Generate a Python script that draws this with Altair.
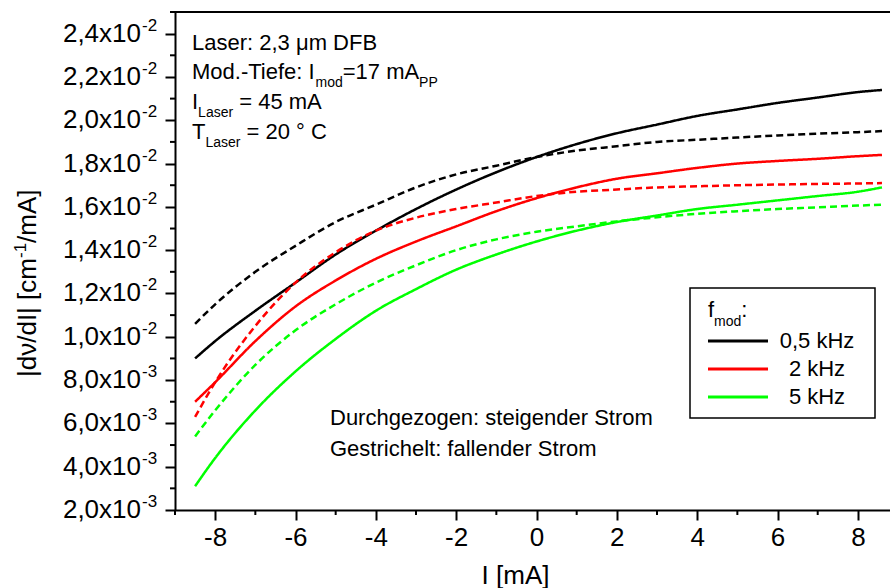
import altair as alt
import pandas as pd

# ---------------- data ----------------
freq_labels = ["0,5 kHz", "2 kHz", "5 kHz"]
freq_colors = ["#000000", "#ff0000", "#00ff00"]
dir_labels = ["steigend", "fallend"]
dir_dash = [[1, 0], [7, 4]]

x_pts = [-8.5, -8, -7, -6, -5, -4, -3, -2, -1, 0, 1, 2, 3, 4, 5, 6, 7, 8, 8.6]
# 0,5 kHz
y_05_up = [0.0090, 0.0098, 0.0112, 0.0125, 0.0138, 0.0149, 0.0159, 0.0168, 0.0176, 0.0183,
           0.0189, 0.0194, 0.0198, 0.0202, 0.0205, 0.0208, 0.02105, 0.0213, 0.0214]
y_05_dn = [0.0106, 0.0115, 0.0130, 0.0142, 0.0153, 0.0161, 0.0169, 0.0175, 0.0179, 0.0183,
           0.0186, 0.0188, 0.0190, 0.0191, 0.0192, 0.0193, 0.01938, 0.01945, 0.0195]
# 2 kHz
y_2_up = [0.0070, 0.0079, 0.0098, 0.0114, 0.0126, 0.0136, 0.0144, 0.0151, 0.0158, 0.0164,
          0.0169, 0.0173, 0.01755, 0.0178, 0.0180, 0.01812, 0.01822, 0.01834, 0.0184]
y_2_dn = [0.0063, 0.0079, 0.0105, 0.0125, 0.0139, 0.0149, 0.0155, 0.0159, 0.0162, 0.0165,
          0.0167, 0.0168, 0.0169, 0.01695, 0.0170, 0.01703, 0.01706, 0.01708, 0.0171]
# 5 kHz
y_5_up = [0.0031, 0.0044, 0.0066, 0.0084, 0.0099, 0.0112, 0.0122, 0.0131, 0.0138, 0.0144,
          0.0149, 0.0153, 0.0156, 0.0159, 0.0161, 0.0163, 0.0165, 0.0167, 0.0169]
y_5_dn = [0.0054, 0.0066, 0.0087, 0.0103, 0.0115, 0.0125, 0.0133, 0.0140, 0.0145, 0.01485,
          0.0151, 0.01533, 0.01552, 0.01568, 0.0158, 0.0159, 0.01598, 0.01606, 0.0161]

x_major = [-8, -6, -4, -2, 0, 2, 4, 6, 8]
x_minor = [-9, -7, -5, -3, -1, 1, 3, 5, 7]
y_tick_values = [0.002, 0.004, 0.006, 0.008, 0.010, 0.012, 0.014, 0.016, 0.018, 0.020, 0.022, 0.024]
y_minor = [0.003, 0.005, 0.007, 0.009, 0.011, 0.013, 0.015, 0.017, 0.019, 0.021, 0.023, 0.025]
y_tick_mant = ["2,0x10", "4,0x10", "6,0x10", "8,0x10", "1,0x10", "1,2x10", "1,4x10",
               "1,6x10", "1,8x10", "2,0x10", "2,2x10", "2,4x10"]
y_tick_exp = ["-3", "-3", "-3", "-3", "-2", "-2", "-2", "-2", "-2", "-2", "-2", "-2"]

# ---------------- tables ----------------
series = [
    (freq_labels[0], dir_labels[0], y_05_up),
    (freq_labels[0], dir_labels[1], y_05_dn),
    (freq_labels[1], dir_labels[0], y_2_up),
    (freq_labels[1], dir_labels[1], y_2_dn),
    (freq_labels[2], dir_labels[0], y_5_up),
    (freq_labels[2], dir_labels[1], y_5_dn),
]
rows = []
for f, d, ys in series:
    for xv, yv in zip(x_pts, ys):
        rows.append({"freq": f, "dir": d, "x": xv, "y": yv})
df = pd.DataFrame(rows)
ylab = pd.DataFrame({"y": y_tick_values, "m": y_tick_mant, "e": y_tick_exp})
xmin_df = pd.DataFrame({"x": x_minor})
ymin_df = pd.DataFrame({"y": y_minor})
dummy = pd.DataFrame({"a": [0]})

W, H = 715, 498
FONT = "Liberation Sans"
x_scale = alt.Scale(domain=[-9, 8.8], nice=False, zero=False)
y_scale = alt.Scale(domain=[0.002, 0.025], nice=False, zero=False)

x_axis = alt.Axis(
    values=x_major, labelExpr="'' + datum.value", tickSize=10,
    labelFontSize=26, labelPadding=4, labelFlush=False, labelOverlap=False,
    title="I [mA]", titleFontSize=26, titleFontWeight="normal",
    titleX=340, titleY=73, titleBaseline="alphabetic", titleAlign="center",
)
y_axis = alt.Axis(values=y_tick_values, labels=False, title=None, tickSize=10)

X = alt.X("x:Q", scale=x_scale, axis=x_axis)
Y = alt.Y("y:Q", scale=y_scale, axis=y_axis)

lines = alt.Chart(df).mark_line(strokeWidth=2.5, interpolate="monotone").encode(
    x=X, y=Y,
    color=alt.Color("freq:N", scale=alt.Scale(domain=freq_labels, range=freq_colors), legend=None),
    strokeDash=alt.StrokeDash("dir:N", scale=alt.Scale(domain=dir_labels, range=dir_dash), legend=None),
)

# minor ticks
xminor = alt.Chart(xmin_df).mark_rule(color="black", strokeWidth=2).encode(
    x=X, y=alt.value(H), y2=alt.value(H + 5))
yminor = alt.Chart(ymin_df).mark_rule(color="black", strokeWidth=2).encode(
    y=Y, x=alt.value(-5), x2=alt.value(0))

ylab_m = alt.Chart(ylab).mark_text(align="right", baseline="alphabetic", fontSize=26, dy=8,
                                   font=FONT, color="black").encode(
    x=alt.value(-34), y=Y, text="m:N")
ylab_e = alt.Chart(ylab).mark_text(align="left", baseline="alphabetic", fontSize=17, dy=-3,
                                   font=FONT, color="black").encode(
    x=alt.value(-33), y=Y, text="e:N")


def txt(t, x, y, size=22, align="left", angle=0):
    kw = dict(text=t, align=align, baseline="alphabetic", fontSize=size, font=FONT, color="black")
    if angle:
        kw["angle"] = angle
    return alt.Chart(dummy).mark_text(**kw).encode(x=alt.value(x), y=alt.value(y))


layers = [lines, xminor, yminor, ylab_m, ylab_e]

# top frame line
layers.append(alt.Chart(dummy).mark_rule(color="black", strokeWidth=2).encode(
    x=alt.value(0), x2=alt.value(W), y=alt.value(0)))

# y axis title (rotated, with superscript)
layers += [
    txt("|d\u03bd/dI| [cm", -139, 365, 26, angle=270),
    txt("-1", -149, 246, 17, angle=270),
    txt("/mA]", -139, 231, 26, angle=270),
]

# annotations top-left
layers += [
    txt("Laser: 2,3 \u03bcm DFB", 17, 38),
    txt("Mod.-Tiefe: I", 17, 67), txt("mod", 140.5, 75, 14),
    txt("=17 mA", 167.7, 67), txt("PP", 244.1, 75, 14),
    txt("I", 17, 97), txt("Laser", 23.1, 105, 14), txt("= 45 mA", 64.2, 97),
    txt("T", 17, 127), txt("Laser", 30.4, 135, 14), txt("= 20 \u00b0 C", 71.5, 127),
    txt("Durchgezogen: steigender Strom", 155, 413),
    txt("Gestrichelt: fallender Strom", 155, 444),
]

# legend
layers.append(alt.Chart(dummy).mark_rect(fill="white", stroke="black", strokeWidth=1.5).encode(
    x=alt.value(515), x2=alt.value(700), y=alt.value(276), y2=alt.value(406)))
layers += [txt("f", 533, 305), txt("mod", 539.1, 314, 14), txt(":", 566.3, 305)]
leg_y = [329, 357, 385]
for lab, col, yy in zip(freq_labels, freq_colors, leg_y):
    layers.append(alt.Chart(dummy).mark_rule(color=col, strokeWidth=3).encode(
        x=alt.value(533), x2=alt.value(593), y=alt.value(yy)))
    layers.append(txt(lab, 642, yy + 7, 22, align="center"))

chart = alt.layer(*layers).properties(
    width=W, height=H,
    autosize=alt.AutoSizeParams(type="none"),
    padding={"left": 175, "top": 12, "right": 0, "bottom": 78},
    background="white",
).configure_view(stroke=None).configure_axis(
    labelFont=FONT, titleFont=FONT, labelColor="black", titleColor="black",
    domainColor="black", tickColor="black", domainWidth=2, tickWidth=2, grid=False,
)

chart.save("out.html", embed_options={"renderer": "svg", "actions": False})
